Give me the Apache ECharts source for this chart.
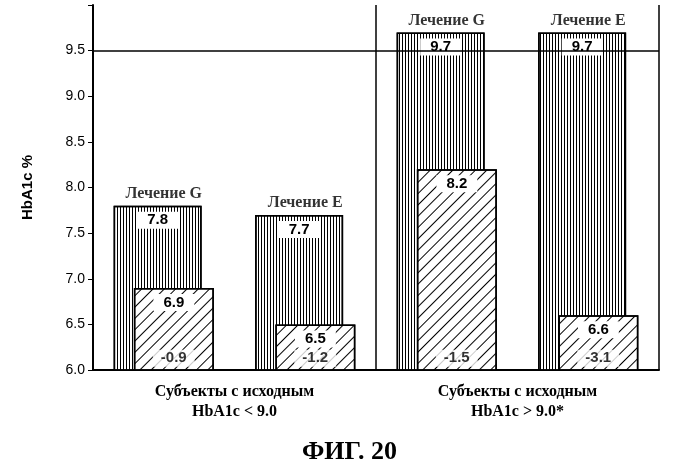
<!DOCTYPE html><html><head><meta charset="utf-8">
<script src="https://cdn.jsdelivr.net/npm/echarts@6/dist/echarts.min.js"></script></head>
<body style="margin:0;background:#fff"><div id="c" style="width:699px;height:474px"></div>
<script>
const categories=['G1','E1','G2','E2'];
const treatLabels=['Лечение G','Лечение E','Лечение G','Лечение E'];
const baseline=[7.8,7.7,9.7,9.7];
const after=[6.9,6.5,8.2,6.6];
const change=[-0.9,-1.2,-1.5,-3.1];
const groups=['Субъекты с исходным\nHbA1c < 9.0','Субъекты с исходным\nHbA1c > 9.0*'];
const serif='Liberation Serif';
const boxLbl={show:true,position:'insideTop',distance:6,color:'#000',fontWeight:'bold',fontSize:15,fontFamily:'Liberation Sans',backgroundColor:'#fff',padding:[1,10]};
const ch=echarts.init(document.getElementById('c'));
ch.setOption({
 animation:false,
 title:{text:'ФИГ. 20',left:'center',bottom:4,textStyle:{fontFamily:serif,fontSize:26,fontWeight:'bold',color:'#000'}},
 grid:{left:93,right:40,top:5,bottom:104},
 xAxis:[{type:'category',data:categories,axisLabel:{show:false},axisTick:{show:false},axisLine:{lineStyle:{color:'#000',width:2}}},
  {type:'category',data:groups,position:'bottom',axisLine:{show:false},axisTick:{show:false},
   axisLabel:{color:'#000',fontFamily:serif,fontWeight:'bold',fontSize:16,lineHeight:20,margin:12},
   splitLine:{show:true,interval:0,lineStyle:{color:'#000',width:1.5}}}],
 yAxis:{type:'value',min:6,max:10,interval:0.5,name:'HbA1c %',nameLocation:'middle',nameGap:58,
  nameTextStyle:{fontFamily:'Liberation Sans',fontWeight:'bold',fontSize:15,color:'#000'},
  axisLine:{show:true,lineStyle:{color:'#000',width:2}},axisTick:{show:true,length:5,lineStyle:{color:'#000'}},
  axisLabel:{color:'#000',fontFamily:'Liberation Sans',fontSize:14,formatter:v=>v>=10?'':v.toFixed(1)},splitLine:{show:false}},
 series:[
  {type:'bar',data:baseline,barWidth:88,barGap:'-77%',
   itemStyle:{color:'#fff',borderColor:'#000',borderWidth:1.5,decal:{color:'#000',symbol:'rect',symbolSize:1,dashArrayX:[1,2],dashArrayY:[10,0]}},
   label:boxLbl,
   markLine:{symbol:'none',silent:true,label:{show:false},lineStyle:{color:'#000',width:1.5,type:'solid'},data:[{yAxis:9.5}]}},
  {type:'bar',data:after,barWidth:80,
   itemStyle:{color:'#fff',borderColor:'#000',borderWidth:1.5,decal:{color:'#000',symbol:'rect',symbolSize:1,dashArrayX:[1,0],dashArrayY:[1,7],rotation:-Math.PI/4}},
   label:boxLbl},
  {type:'scatter',data:change.map(()=>6.13),symbolSize:0,xAxisIndex:0,
   label:{show:true,position:'inside',offset:[10,0],formatter:p=>change[p.dataIndex].toFixed(1),color:'#000',fontWeight:'bold',fontSize:15,fontFamily:'Liberation Sans',backgroundColor:'#fff',padding:[1,8]}},
  {type:'scatter',data:baseline,symbolSize:0,
   label:{show:true,position:'top',distance:4,formatter:p=>treatLabels[p.dataIndex],color:'#000',fontWeight:'bold',fontSize:16,fontFamily:serif}}
 ]});
</script></body></html>
